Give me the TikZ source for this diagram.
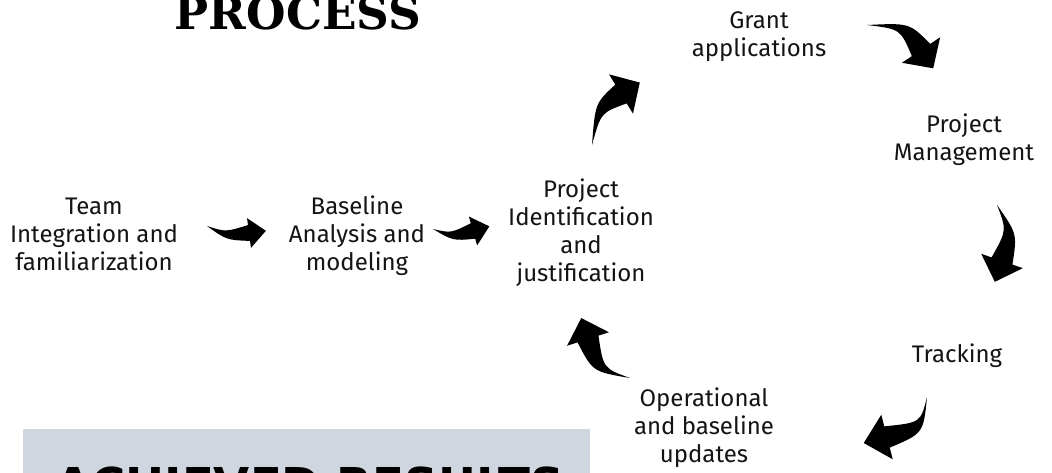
\documentclass[tikz,border=0pt]{standalone}
\usepackage{fontspec}
\setmainfont{Fira Sans}
\newfontfamily\headserif{DejaVu Serif}
\newfontfamily\bannersans{DejaVu Sans}
\usetikzlibrary{calc}
\definecolor{bannergray}{HTML}{CFD6E0}
\definecolor{ink}{HTML}{141414}
\tikzset{
  % multi-line labels are placed by the baseline of their last line
  steptext/.style={align=center, anchor=base, inner sep=0pt,
    font=\fontsize{18}{21}\selectfont, text=ink},
  arrowfill/.style={fill=black},
}
% Curved block arrow: tail, bend point, head base,
% body half-width, head half-width, head length
\newcommand\swoosh[6]{%
  \path ($(#3)!#4!90:(#2)$) coordinate (sw-b1)
        ($(#3)!#4!-90:(#2)$) coordinate (sw-b2)
        ($(#3)!#5!90:(#2)$) coordinate (sw-h1)
        ($(#3)!#5!-90:(#2)$) coordinate (sw-h2)
        ($(#3)!-#6!(#2)$) coordinate (sw-tip);
  \fill[arrowfill] (#1) .. controls ($(#2)+0.5*(sw-b1)-0.5*(#3)$) .. (sw-b1)
     -- (sw-h1) -- (sw-tip) -- (sw-h2) -- (sw-b2)
     .. controls ($(#2)+0.5*(sw-b2)-0.5*(#3)$) .. (#1) -- cycle;
}
\begin{document}
\begin{tikzpicture}[x=0.75pt,y=-0.75pt]
\useasboundingbox (0,0) rectangle (1052,472);
\clip (0,0) rectangle (1052,472);

% banner at the bottom
\fill[bannergray] (23,429) rectangle (590,480);
\node[anchor=base west, inner sep=0pt,
  font=\bannersans\bfseries\fontsize{35}{40}\selectfont] (banner) at (55,501) {ACHIEVED RESULTS};

% heading
\node[anchor=base, inner sep=0pt,
  font=\headserif\bfseries\fontsize{34}{40}\selectfont] (title) at (298,29) {PROCESS};

% process steps
\node[steptext] (team)  at (94,270)  {Team\\Integration and\\familiarization};
\node[steptext] (base)  at (357,270) {Baseline\\Analysis and\\modeling};
\node[steptext] (ident) at (581,281) {Project\\Identification\\and\\justification};
\node[steptext] (grant) at (759,56)  {Grant\\applications};
\node[steptext] (pm)    at (964,160) {Project\\Management};
\node[steptext] (track) at (957,362) {Tracking};
\node[steptext] (oper)  at (704,462) {Operational\\and baseline\\updates};

% arrow geometry: tail, bend, head base
\coordinate (a1t) at (207,226); \coordinate (a1c) at (226,236); \coordinate (a1h) at (249,233);
\coordinate (a2t) at (433,229); \coordinate (a2c) at (452,237); \coordinate (a2h) at (473,231);
\coordinate (a3t) at (592,145); \coordinate (a3c) at (598,108); \coordinate (a3h) at (621,94);
\coordinate (a4t) at (867,25);  \coordinate (a4c) at (905,26);  \coordinate (a4h) at (921,50);
\coordinate (a5t) at (997,205); \coordinate (a5c) at (1012,232); \coordinate (a5h) at (1002,261);
\coordinate (a6t) at (927,397); \coordinate (a6c) at (922,428); \coordinate (a6h) at (887,437);
\coordinate (a7t) at (630,378); \coordinate (a7c) at (598,370); \coordinate (a7h) at (588,339);

\swoosh{a1t}{a1c}{a1h}{6pt}{11.25pt}{12.75pt}
\swoosh{a2t}{a2c}{a2h}{6pt}{11.25pt}{12.75pt}
\swoosh{a3t}{a3c}{a3h}{8.25pt}{17.25pt}{16.5pt}
\swoosh{a4t}{a4c}{a4h}{8.25pt}{17.25pt}{16.5pt}
\swoosh{a5t}{a5c}{a5h}{8.25pt}{16.5pt}{16.5pt}
\swoosh{a6t}{a6c}{a6h}{8.25pt}{17.25pt}{18pt}
\swoosh{a7t}{a7c}{a7h}{8.25pt}{16.5pt}{16.5pt}
\end{tikzpicture}
\end{document}
